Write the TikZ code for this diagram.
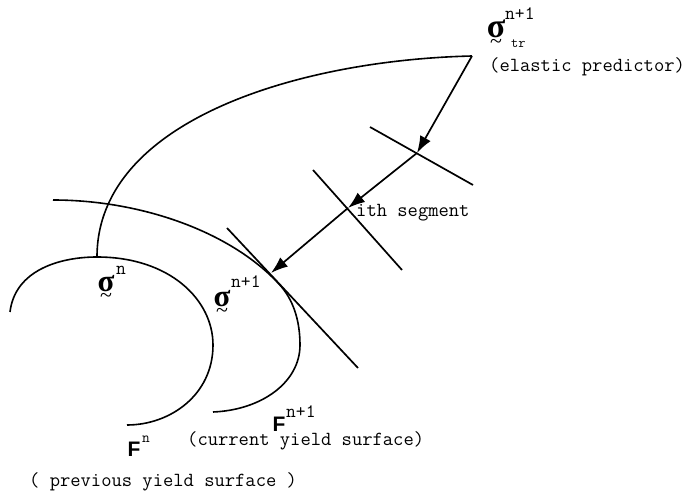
\documentclass[tikz,border=0pt]{standalone}
\usepackage{fontspec}
\setmainfont{Liberation Serif}
\setsansfont{Liberation Sans}
\usetikzlibrary{arrows.meta}
\newcommand{\lblfont}{\ttfamily\fontsize{20}{20}\selectfont}
\newcommand{\supfont}{\ttfamily\fontsize{19}{19}\selectfont}
\newcommand{\smallsup}{\ttfamily\fontsize{15}{15}\selectfont}
\newcommand{\tsig}{\leavevmode\vtop{\offinterlineskip\halign{\hfil##\hfil\cr\bfseries σ\cr\noalign{\kern1pt}\fontsize{22}{22}\selectfont\textasciitilde\cr}}}
\tikzset{curve/.style={line width=1.6pt},seg/.style={-{Latex[length=17pt,width=12pt]},line width=1.7pt},cut/.style={line width=1.7pt},lbl/.style={font=\lblfont,inner sep=0pt},sup/.style={font=\supfont,inner sep=0pt},sig/.style={font=\fontsize{31}{31}\selectfont,inner sep=0pt},surf/.style={font=\sffamily\bfseries\fontsize{21}{21}\selectfont,inner sep=0pt}}

\begin{document}
\begin{tikzpicture}[x=1pt,y=-1pt]
\useasboundingbox (0,0) rectangle (697,494);
\coordinate (trial) at (472,56);
\coordinate (c1) at (417,153);
\coordinate (c2) at (348,208);
\coordinate (tang) at (271,273);
\coordinate (top) at (97,257);
% yield surfaces
\draw[curve] (10,312) .. controls (15,270) and (60,257) .. (top) .. controls (170,257) and (213,300) .. (213,345) .. controls (213,395) and (170,425) .. (127,425);
\draw[curve] (53,200) .. controls (140,200) and (230,231) .. (279,284) .. controls (293,299) and (300,320) .. (300,345) .. controls (300,382) and (262,410) .. (213,412);
\draw[curve] (top) .. controls (97,120) and (300,60) .. (trial);
% segments
\coordinate (c1a) at (370,127);
\coordinate (c1b) at (473,185);
\coordinate (c2a) at (313,170);
\coordinate (c2b) at (402,270);
\coordinate (ta) at (227,228);
\coordinate (tb) at (358,368);
\draw[cut] (c1a) -- (c1b);
\draw[cut] (c2a) -- (c2b);
\draw[cut] (ta) -- (tb);
\draw[seg] (trial) -- (c1);
\draw[seg] (c1) -- (c2);
\draw[seg] (c2) -- (tang);
% labels
\node[sig,anchor=base,font=\fontsize{34}{34}\selectfont] (sigtr) at (496,38) {\tsig};
\node[sup,anchor=base west] (suptr) at (505,20) {n+1};
\node[sup,anchor=base west,font=\ttfamily\fontsize{14}{14}\selectfont] (subtr) at (511,48) {tr};
\node[lbl,anchor=base west] (elast) at (489,72) {(elastic predictor)};
\node[lbl,anchor=base west] (ith) at (356,217) {ith segment};
\node[sig,anchor=base] (sign) at (106,292) {\tsig};
\node[sup,anchor=base west] (supn) at (116,275) {n};
\node[sig,anchor=base] (signew) at (222,307) {\tsig};
\node[sup,anchor=base west] (supnew) at (231,288) {n+1};
\node[surf,anchor=base] (fn) at (134,457) {F};
\node[sup,anchor=base west,font=\smallsup] (fnsup) at (142,443) {n};
\node[surf,anchor=base] (fnew) at (279,432) {F};
\node[sup,anchor=base west] (fnewsup) at (286,418) {n+1};
\node[lbl,anchor=base west] (curr) at (187,446) {(current yield surface)};
\node[lbl,anchor=base west] (prev) at (29,487) {( previous yield surface )};
\end{tikzpicture}
\end{document}
